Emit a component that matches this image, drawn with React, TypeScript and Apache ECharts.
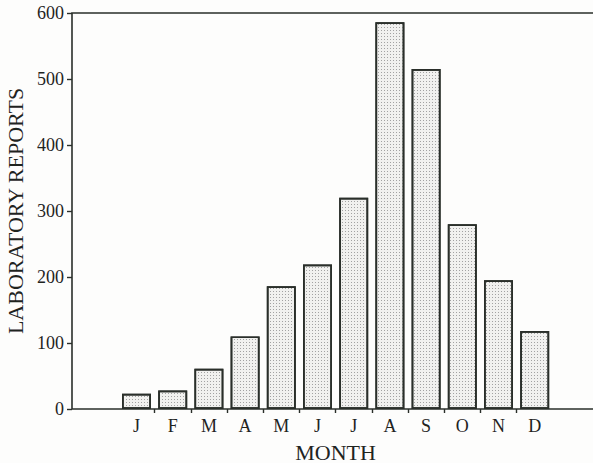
import { useEffect, useRef } from "react";
import * as echarts from "echarts";

const MONTHS = ["J", "F", "M", "A", "M", "J", "J", "A", "S", "O", "N", "D"];
const TRAILING_BLANKS = ["", ""];
const REPORTS = [23, 28, 61, 110, 186, 219, 320, 586, 515, 280, 195, 118];
const Y_MIN = 0;
const Y_MAX = 600;
const Y_STEP = 100;
const X_TITLE = "MONTH";
const Y_TITLE = "LABORATORY REPORTS";

export default function App() {
  const ref = useRef<HTMLDivElement>(null);

  useEffect(() => {
    if (!ref.current) return;
    const chart = echarts.init(ref.current, null, { renderer: "svg" });
    const ink = "#2a2f2a";
    const text = "#1f241f";
    const font = "'Liberation Serif', 'Times New Roman', serif";
    const band = 36.2;
    const barGridLeft = 118.4;
    const nCats = MONTHS.length + TRAILING_BLANKS.length;
    const barGridWidth = band * nCats;
    const monthCenter = barGridLeft + (band * MONTHS.length) / 2;

    chart.setOption({
      animation: false,
      backgroundColor: "#fdfdfc",
      grid: [
        {
          left: 72,
          top: 13,
          width: 560,
          height: 396,
          outerBoundsMode: "none",
          containLabel: false,
          show: true,
          borderColor: ink,
          borderWidth: 1.6,
          backgroundColor: "transparent",
        },
        {
          left: barGridLeft,
          top: 13,
          width: barGridWidth,
          height: 396,
          outerBoundsMode: "none",
          containLabel: false,
        },
      ],
      xAxis: [
        { gridIndex: 0, type: "value", show: false, min: 0, max: 1 },
        {
          gridIndex: 1,
          type: "category",
          data: [...MONTHS, ...TRAILING_BLANKS],
          axisLine: { show: false },
          axisTick: {
            show: true,
            length: 4,
            interval: (index: number) => index >= 1 && index < MONTHS.length,
            lineStyle: { color: ink, width: 1.4 },
          },
          axisLabel: {
            interval: 0,
            margin: 8,
            color: text,
            fontFamily: font,
            fontSize: 18,
          },
          splitLine: { show: false },
        },
      ],
      yAxis: [
        {
          gridIndex: 0,
          type: "value",
          min: Y_MIN,
          max: Y_MAX,
          interval: Y_STEP,
          axisLine: { show: false },
          axisTick: { show: true, length: 5, lineStyle: { color: ink, width: 1.4 } },
          axisLabel: { margin: 8, color: text, fontFamily: font, fontSize: 18 },
          splitLine: { show: false },
          name: Y_TITLE,
          nameLocation: "middle",
          nameGap: 44,
          nameTextStyle: { color: text, fontFamily: font, fontSize: 22 },
        },
        { gridIndex: 1, type: "value", min: Y_MIN, max: Y_MAX, show: false, splitLine: { show: false } },
      ],
      series: [
        {
          type: "bar",
          xAxisIndex: 1,
          yAxisIndex: 1,
          data: REPORTS,
          barCategoryGap: "20%",
          itemStyle: {
            color: "#f1f1ef",
            borderColor: ink,
            borderWidth: 1.7,
            decal: {
              symbol: "rect",
              symbolSize: 1,
              dashArrayX: [1, 2],
              dashArrayY: [1, 2],
              rotation: 0,
              color: "rgba(110,110,110,0.6)",
            },
          },
        },
      ],
      graphic: [
        {
          type: "text",
          x: monthCenter,
          y: 452,
          style: {
            text: X_TITLE,
            fill: text,
            fontFamily: font,
            fontSize: 22,
            align: "center",
            verticalAlign: "middle",
          },
        },
      ],
    });

    return () => chart.dispose();
  }, []);

  return (
    <div
      ref={ref}
      style={{ position: "fixed", left: 0, top: 0, width: 593, height: 463 }}
    />
  );
}
